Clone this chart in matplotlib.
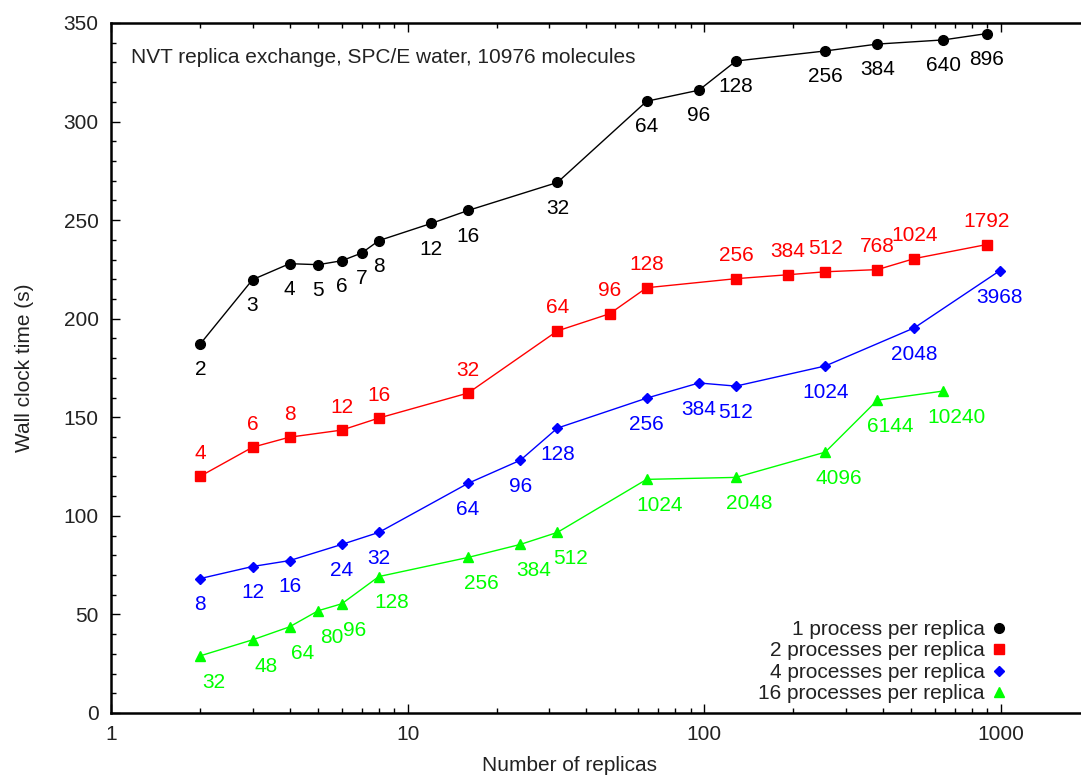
import matplotlib.pyplot as plt
from matplotlib import ticker
from matplotlib.lines import Line2D

plt.rcParams['font.family'] = ['Liberation Sans', 'DejaVu Sans']
plt.rcParams['font.size'] = 15

# number of replicas and wall clock time (s) for each setup
rep_1 = [2, 3, 4, 5, 6, 7, 8, 12, 16, 32, 64, 96, 128, 256, 384, 640, 896]
time_1 = [187.2, 219.8, 227.9, 227.4, 229.4, 233.3, 239.6, 248.3, 254.9, 269.1,
          310.3, 315.9, 330.7, 335.8, 339.3, 341.4, 344.6]

rep_2 = [2, 3, 4, 6, 8, 16, 32, 48, 64, 128, 192, 256, 384, 512, 896]
time_2 = [120.1, 134.8, 139.9, 143.5, 149.6, 162.3, 193.8, 202.5, 215.7, 220.3,
          222.3, 223.8, 224.9, 230.5, 237.6]

rep_4 = [2, 3, 4, 6, 8, 16, 24, 32, 64, 96, 128, 256, 512, 992]
time_4 = [68.2, 74.3, 77.3, 85.5, 91.6, 116.5, 128.2, 144.5, 159.7, 167.4,
          165.8, 176.0, 195.4, 224.3]

rep_16 = [2, 3, 4, 5, 6, 8, 16, 24, 32, 64, 128, 256, 384, 640]
time_16 = [29.0, 37.1, 43.7, 51.9, 55.4, 69.2, 78.9, 85.5, 91.6, 118.5,
           119.5, 132.3, 158.7, 163.3]

procs = [1, 2, 4, 16]
names = ['1 process per replica', '2 processes per replica',
         '4 processes per replica', '16 processes per replica']

fig = plt.figure(figsize=(10.81, 7.76), dpi=100)
ax = fig.add_axes([0.1027, 0.0812, 0.9056, 0.8892])

styles = [
    ('black', 'o', 7, (0, -18.5)),
    ('#ff0000', 's', 7.5, (0, 16.5)),
    ('#0000ff', 'D', 5.5, (0, -19)),
    ('#00ff00', '^', 7, (9.5, -19)),
]
handles = []
for reps, times, ppr, name, (col, mk, ms, off) in zip(
        [rep_1, rep_2, rep_4, rep_16], [time_1, time_2, time_4, time_16],
        procs, names, styles):
    ax.plot(reps, times, color=col, marker=mk, ms=ms, lw=1.0, mec=col)
    for r, t in zip(reps, times):
        ax.annotate(str(r * ppr), (r, t), xytext=off, textcoords='offset points',
                    ha='center', va='center', color=col)
    handles.append(Line2D([], [], ls='none', marker=mk, ms=ms, color=col, label=name))

ax.set_xscale('log')
ax.set_xlim(1, 2000)
ax.set_ylim(0, 350)
ax.set_yticks(range(0, 351, 50))
ax.yaxis.set_minor_locator(ticker.MultipleLocator(10))
ax.xaxis.set_major_locator(ticker.LogLocator(base=10))
ax.xaxis.set_minor_locator(ticker.LogLocator(base=10, subs=range(2, 10)))
ax.xaxis.set_major_formatter(ticker.FuncFormatter(lambda v, _: f'{v:g}'))
ax.xaxis.set_minor_formatter(ticker.NullFormatter())
ax.tick_params(which='both', direction='in', top=True, right=True, width=1,
               labelcolor='#222222')
ax.tick_params(which='major', length=6.5, pad=9)
ax.tick_params(which='minor', length=3.5)
for s in ax.spines.values():
    s.set_linewidth(1.8)

ax.text(0.02, 0.95, 'NVT replica exchange, SPC/E water, 10976 molecules',
        transform=ax.transAxes, ha='left', va='center', color='#222222')

ax.set_xlabel('Number of replicas', color='#222222')
ax.set_ylabel('Wall clock time (s)', color='#222222')
ax.xaxis.set_label_coords(0.468, -0.063)
ax.yaxis.set_label_coords(-0.079, 0.5)

ax.legend(handles=handles, loc='lower right', bbox_to_anchor=(0.918, 0.014),
          markerfirst=False, frameon=False, borderpad=0, borderaxespad=0,
          handlelength=1, handletextpad=0.2, labelspacing=0.12,
          labelcolor='#222222')

fig.savefig('out.png', dpi=100)
